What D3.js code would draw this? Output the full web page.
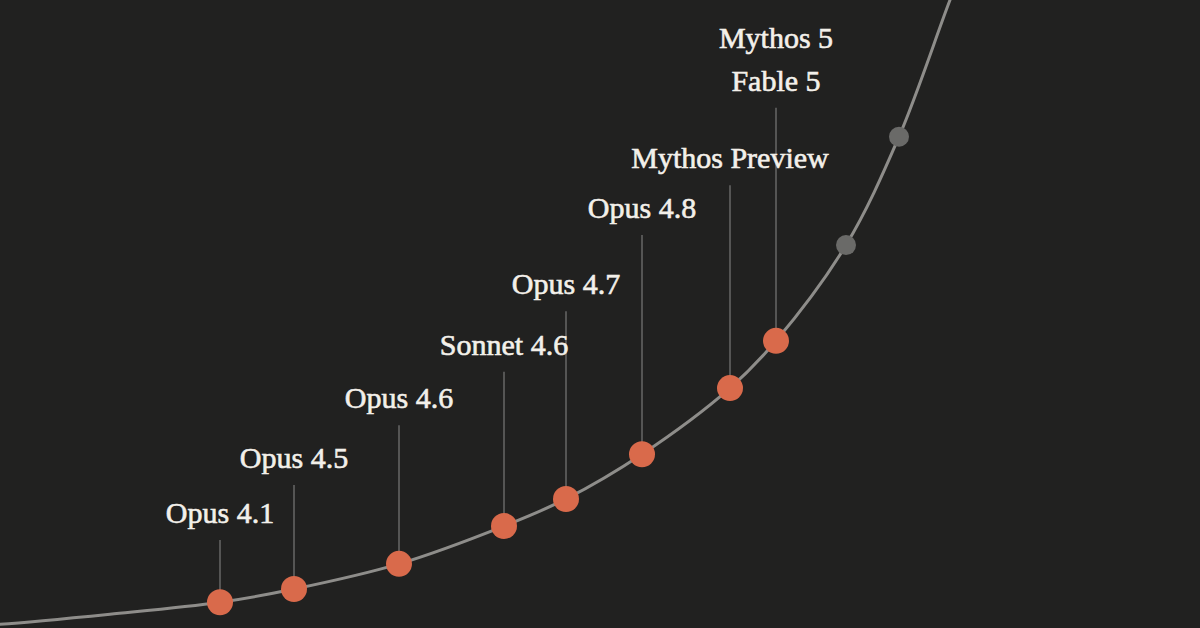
<!DOCTYPE html>
<html>
<head>
<meta charset="utf-8">
<script src="https://cdn.jsdelivr.net/npm/d3@7"></script>
<style>
  html, body { margin: 0; padding: 0; background: #212120; }
  svg { display: block; }
</style>
</head>
<body>
<svg id="chart" width="1200" height="628"></svg>
<script>
// ---- Data ----
// Curve trace: time (x) vs. capability (y)
const curveX = [-2, 0, 11, 22, 29.4, 39.9, 50.4, 56.6, 64.2, 73.0, 77.6, 84.6, 89.9, 95.0, 97.0];
const curveY = [0.75, 0.9, 2.5, 4.4, 6.5, 10.5, 16.5, 20.8, 27.9, 38.4, 45.9, 61.1, 78.3, 100, 108];

// Released models (orange points)
const models     = ["Opus 4.1", "Opus 4.5", "Opus 4.6", "Sonnet 4.6", "Opus 4.7", "Opus 4.8", "Mythos Preview", "Fable 5"];
const modelX     = [22.0, 29.4, 39.9, 50.4, 56.6, 64.2, 73.0, 77.6];
const modelY     = [4.4, 6.5, 10.5, 16.5, 20.8, 27.9, 38.4, 45.9];
const leaderTop  = [14.3, 23.0, 32.5, 41.0, 50.6, 62.7, 70.6, 82.9];
// Extra label stacked above a model's label
const extraLabels = { "Fable 5": ["Mythos 5"] };

// Future points (gray)
const futureX = [84.6, 89.9];
const futureY = [61.1, 78.3];

// ---- Drawing ----
const W = 1200, H = 628;
const svg = d3.select("#chart");
svg.append("rect").attr("width", W).attr("height", H).attr("fill", "#212120");

const x = d3.scaleLinear().domain([0, 120]).range([0, 1200]);
const y = d3.scaleLinear().domain([0, 100]).range([630, 0]);

const curvePts = curveX.map((d, i) => [d, curveY[i]]);
const line = d3.line().x(d => x(d[0])).y(d => y(d[1])).curve(d3.curveCatmullRom.alpha(0.5));

svg.append("path")
  .attr("d", line(curvePts))
  .attr("fill", "none")
  .attr("stroke", "#8e8d8a")
  .attr("stroke-width", 3);

const mdata = models.map((m, i) => ({ name: m, x: modelX[i], y: modelY[i], top: leaderTop[i] }));

// leader lines
svg.selectAll("line.leader").data(mdata).enter().append("line")
  .attr("class", "leader")
  .attr("x1", d => x(d.x)).attr("x2", d => x(d.x))
  .attr("y1", d => y(d.top)).attr("y2", d => y(d.y))
  .attr("stroke", "#555554")
  .attr("stroke-width", 2);

// future gray dots
svg.selectAll("circle.future").data(futureX.map((d, i) => [d, futureY[i]])).enter().append("circle")
  .attr("class", "future")
  .attr("cx", d => x(d[0])).attr("cy", d => y(d[1]))
  .attr("r", 10)
  .attr("fill", "#6a6a68");

// model dots
svg.selectAll("circle.model").data(mdata).enter().append("circle")
  .attr("class", "model")
  .attr("cx", d => x(d.x)).attr("cy", d => y(d.y))
  .attr("r", 13)
  .attr("fill", "#d96a4b");

// labels
const font = "'Liberation Serif', 'Times New Roman', serif";
mdata.forEach(d => {
  const lines = (extraLabels[d.name] || []).concat([d.name]);
  const baseY = y(d.top) - 17;
  lines.forEach((t, j) => {
    svg.append("text")
      .attr("x", x(d.x))
      .attr("y", baseY - (lines.length - 1 - j) * 43)
      .attr("text-anchor", "middle")
      .attr("font-family", font)
      .attr("font-size", 30)
      .attr("fill", "#f3f0ea")
      .attr("stroke", "#f3f0ea")
      .attr("stroke-width", 0.6)
      .text(t);
  });
});
</script>
</body>
</html>
